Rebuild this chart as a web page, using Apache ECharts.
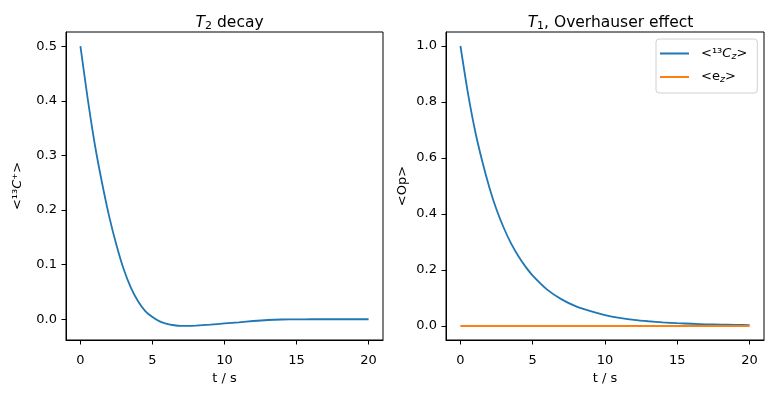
<!DOCTYPE html>
<html>
<head>
<meta charset="utf-8">
<script src="https://cdn.jsdelivr.net/npm/echarts@6/dist/echarts.min.js"></script>
<style>
html,body{margin:0;padding:0;background:#fff;}
#c{width:773px;height:393px;}
</style>
</head>
<body>
<div id="c"></div>
<script>
// ---- data ----
const tLeft   = [0,0.5,1,1.5,2,2.5,3,3.5,4,4.5,5,5.5,6,6.5,7,7.5,8,9,10,11,12,13,14,15,16,17,18,19,20];
const t2Decay = [0.500,0.405,0.320,0.250,0.188,0.136,0.092,0.058,0.033,0.015,0.004,-0.004,-0.0085,-0.011,-0.012,-0.012,-0.0115,-0.0098,-0.0077,-0.0056,-0.0032,-0.0014,-0.0005,-0.0002,0,0,0,0,0];
const tRight  = [0,0.5,1,1.5,2,2.5,3,3.5,4,4.5,5,6,7,8,9,10,11,12,13,14,15,16,17,18,19,20];
const c13z    = [1.0,0.837,0.70,0.59,0.495,0.415,0.35,0.295,0.25,0.212,0.18,0.13,0.095,0.07,0.053,0.039,0.029,0.022,0.017,0.013,0.010,0.008,0.006,0.005,0.004,0.003];
const ez      = [0,0,0,0,0,0,0,0,0,0,0,0,0,0,0,0,0,0,0,0,0,0,0,0,0,0];
const xTicks      = [0,5,10,15,20];
const yTicksLeft  = [0,0.1,0.2,0.3,0.4,0.5];
const yTicksRight = [0,0.2,0.4,0.6,0.8,1.0];

const FONT = 'DejaVu Sans';
const FS = 13;
const pairs = (xs, ys) => xs.map((x, i) => [x, ys[i]]);

const richBase = {
  n:   {fontFamily: FONT, fontSize: FS, fontWeight: 'normal', color: '#000', lineHeight: 16},
  i:   {fontFamily: FONT, fontSize: FS, fontWeight: 'normal', fontStyle: 'italic', color: '#000', lineHeight: 16},
  sub: {fontFamily: FONT, fontSize: 9.5, fontWeight: 'normal', fontStyle: 'italic', color: '#000', lineHeight: 9, verticalAlign: 'bottom'}
};
const richTitle = {
  n:   {fontFamily: FONT, fontSize: 15.5, fontWeight: 'normal', color: '#000', lineHeight: 19},
  i:   {fontFamily: FONT, fontSize: 15.5, fontWeight: 'normal', fontStyle: 'italic', color: '#000', lineHeight: 19},
  sub: {fontFamily: FONT, fontSize: 11, fontWeight: 'normal', color: '#000', lineHeight: 10, verticalAlign: 'bottom'}
};

function xAxisDef(idx) {
  return {
    type: 'value', gridIndex: idx, min: -1, max: 21,
    axisLine: {show: true, onZero: false, lineStyle: {color: '#000', width: 1}},
    axisTick: {show: true, length: 4.5, lineStyle: {color: '#000'}, customValues: xTicks},
    axisLabel: {show: true, margin: 14, fontFamily: FONT, fontSize: FS, color: '#000', customValues: xTicks,
                formatter: v => String(v)},
    splitLine: {show: false},
    name: 't / s', nameLocation: 'middle', nameGap: 29,
    nameTextStyle: {fontFamily: FONT, fontSize: FS, color: '#000'}
  };
}
function yAxisDef(idx, min, max, ticks, name, gap) {
  return {
    type: 'value', gridIndex: idx, min: min, max: max,
    axisLine: {show: true, onZero: false, lineStyle: {color: '#000', width: 1}},
    axisTick: {show: true, length: 4.5, lineStyle: {color: '#000'}, customValues: ticks},
    axisLabel: {show: true, margin: 9, fontFamily: FONT, fontSize: FS, color: '#000', customValues: ticks,
                formatter: v => v.toFixed(1)},
    splitLine: {show: false},
    name: name, nameLocation: 'middle', nameGap: gap, nameRotate: 90,
    nameTextStyle: {fontFamily: FONT, fontSize: FS, color: '#000', rich: richBase}
  };
}

const chart = echarts.init(document.getElementById('c'), null, {renderer: 'canvas'});
chart.setOption({
  backgroundColor: '#fff',
  animation: false,
  title: [
    {text: '{i|T}{sub|2}{n| decay}', left: 224.6, top: 8, textAlign: 'center',
     textStyle: {fontWeight: 'normal', rich: richTitle}},
    {text: '{i|T}{sub|1}{n|, Overhauser effect}', left: 605.5, top: 8, textAlign: 'center',
     textStyle: {fontWeight: 'normal', rich: richTitle}}
  ],
  grid: [
    {left: 66, top: 32, width: 317, height: 308, show: true, borderColor: '#000', borderWidth: 1, backgroundColor: '#fff'},
    {left: 446, top: 32, width: 318, height: 308, show: true, borderColor: '#000', borderWidth: 1, backgroundColor: '#fff'}
  ],
  xAxis: [xAxisDef(0), xAxisDef(1)],
  yAxis: [
    yAxisDef(0, -0.038, 0.526, yTicksLeft, '{n|<¹³}{i|C}{n|⁺>}', 40),
    yAxisDef(1, -0.05, 1.05, yTicksRight, '{n|<Op>}', 35)
  ],
  legend: {
    orient: 'vertical', left: 656, top: 39,
    padding: [8, 10, 8, 4], itemGap: 9,
    itemWidth: 29, itemHeight: 2,
    backgroundColor: 'rgba(255,255,255,0.8)', borderColor: '#d0d0d0', borderWidth: 1, borderRadius: 3,
    data: [{name: 'c13z', icon: 'rect'}, {name: 'ez', icon: 'rect'}],
    formatter: name => name === 'c13z' ? '{n|<¹³}{i|C}{sub|z}{n|>}' : '{n|<e}{sub|z}{n|>}',
    textStyle: {rich: richBase, padding: [0, 0, 0, 7]}
  },
  series: [
    {type: 'line', name: 't2', xAxisIndex: 0, yAxisIndex: 0, data: pairs(tLeft, t2Decay),
     showSymbol: false, symbol: 'none', smooth: 0.25,
     lineStyle: {color: '#1f77b4', width: 1.8}, itemStyle: {color: '#1f77b4'}},
    {type: 'line', name: 'c13z', xAxisIndex: 1, yAxisIndex: 1, data: pairs(tRight, c13z),
     showSymbol: false, symbol: 'none', smooth: 0.25,
     lineStyle: {color: '#1f77b4', width: 1.8}, itemStyle: {color: '#1f77b4'}},
    {type: 'line', name: 'ez', xAxisIndex: 1, yAxisIndex: 1, data: pairs(tRight, ez),
     showSymbol: false, symbol: 'none',
     lineStyle: {color: '#ff7f0e', width: 1.8}, itemStyle: {color: '#ff7f0e'}}
  ]
});
</script>
</body>
</html>
